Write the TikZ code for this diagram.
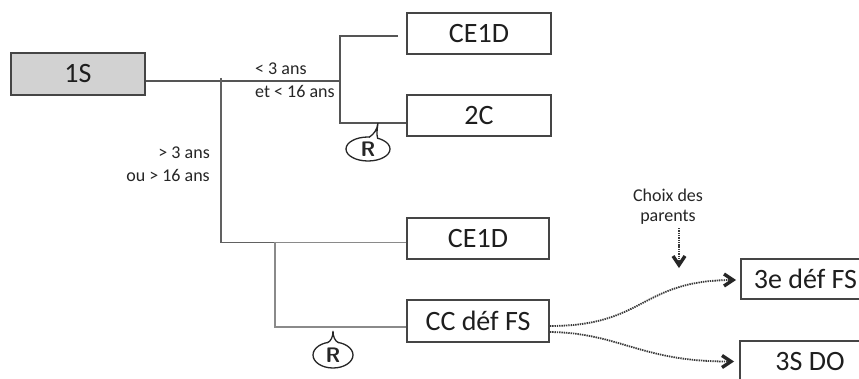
\documentclass[tikz,border=0pt]{standalone}
\usepackage{fontspec}
\setmainfont{Carlito}
\usetikzlibrary{arrows.meta,shapes.geometric,calc}
\definecolor{boxc}{HTML}{454545}
\definecolor{boxfill}{HTML}{D2D2D2}
\definecolor{txt}{HTML}{1E1E1E}
\definecolor{dark}{HTML}{555555}
\definecolor{light}{HTML}{8A8A8A}
\definecolor{arrc}{HTML}{3A3A3A}
\begin{document}
\begin{tikzpicture}[x=1pt,y=-1pt,
  box/.style={draw=boxc, line width=1.8pt, minimum width=144pt, minimum height=41pt,
    inner sep=0pt, font=\fontsize{28}{30}\selectfont, text=txt},
  dline/.style={draw=dark, line width=1.3pt},
  lline/.style={draw=light, line width=1.4pt},
  lbl/.style={inner sep=0pt, font=\fontsize{18}{20}\selectfont, text=black!85},
  rbub/.style={ellipse, draw=black!85, line width=1.3pt, inner sep=0pt,
    font=\fontsize{21}{21}\selectfont\sffamily\bfseries, text=black!85},
  rline/.style={draw=black!85, line width=1.3pt},
  dots/.style={draw=arrc, dash pattern=on 1.4pt off 0.9pt, line width=1.8pt, shorten >=3pt},
  chev/.style={draw=black!85, solid, line width=3.4pt, miter limit=4}]
\clip (0,0) rectangle (859,379);
\fill[white] (0,0) rectangle (859,379);

% boxes
\node[box, fill=boxfill, minimum width=134pt, minimum height=42pt] (s1) at (78,74) {1S};
\node[box] (ce1) at (479,33.5) {CE1D};
\node[box] (c2) at (479,115.5) {2C};
\node[box, minimum width=142pt] (ce2) at (478,238.5) {CE1D};
\node[box, minimum width=142pt, minimum height=42pt] (cc) at (478,321) {CC déf FS};
\node[box, minimum width=0pt, minimum height=40pt, inner xsep=13pt, anchor=west] (e3) at (740,279) {3e déf FS};
\node[box, minimum width=140pt] (s3) at (810,361.5) {3S DO};

% junctions
\coordinate (j0) at (221,78);
\coordinate (j1) at (221,81);
\coordinate (j2) at (340,81);
\coordinate (u1) at (340,36);
\coordinate (u2) at (340,123);
\coordinate (j3) at (221,242.5);
\coordinate (l1) at (275,242.5);
\coordinate (l2) at (275,327);

% upper tree
\draw[dline] (s1.east |- j1) -- (j2);
\draw[dline, shorten <=8pt] (ce1.west |- u1) -- (u1) -- (u2) -- (c2.west |- u2);

% lower tree
\draw[lline, draw=black!62] (j0) -- (j3) -- (l1);
\draw[lline] (l1) -- (ce2.west |- l1);
\draw[lline] (l1) -- (l2) -- (cc.west |- l2);

% labels
\node[lbl, anchor=base west] (a1) at (255,75) {< 3 ans};
\node[lbl, anchor=base west] (a2) at (255,98) {et < 16 ans};
\node[lbl, anchor=base east] (b1) at (210,159) {> 3 ans};
\node[lbl, anchor=base east] (b2) at (210,182) {ou > 16 ans};

% R callouts
\node[rbub, minimum width=44pt, minimum height=24pt] (r1) at (368,149) {R};
\fill[white] (370.3,134.5) rectangle (376.6,139.4);
\draw[rline] (369.2,137.2) .. controls (374,134) and (377,130) .. (378,123)
  .. controls (377,130) and (376.5,134) .. (377.6,138.2);
\node[rbub, minimum width=40pt, minimum height=26pt] (r2) at (333,355) {R};
\fill[white] (328.3,339.5) rectangle (337.7,344.2);
\draw[rline] (327.4,342.8) .. controls (331,341) and (333,337) .. (333,331)
  .. controls (333,337) and (335,341) .. (338.6,342.8);

% choix des parents
\node[lbl, anchor=base] (ch1) at (668,202) {Choix des};
\node[lbl, anchor=base] (ch2) at (668,222) {parents};
\coordinate (ct) at (679,265);
\coordinate (t1) at (733,280);
\coordinate (t2) at (731,361.5);
\draw[dots] (ct |- ch2.south) ++(0,3) -- (ct);
\draw[chev] ($(ct)+(-6,-9)$) -- (ct) -- ($(ct)+(6,-9)$);

% dotted curves
\draw[dots] ([yshift=-5pt]cc.east) .. controls (645,326) and (640,281) .. (t1);
\draw[chev] ($(t1)+(-9,-6)$) -- (t1) -- ($(t1)+(-9,6)$);
\draw[dots] ([yshift=-11pt]cc.east) .. controls (620,333) and (640,361.5) .. (t2);
\draw[chev] ($(t2)+(-9,-6)$) -- (t2) -- ($(t2)+(-9,6)$);
\end{tikzpicture}
\end{document}
